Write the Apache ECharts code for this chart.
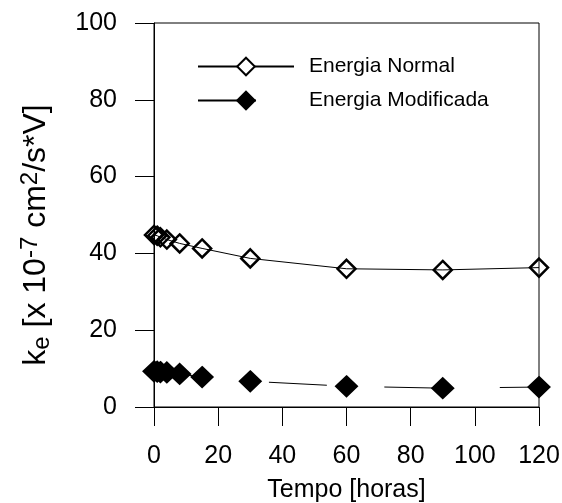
<!DOCTYPE html>
<html>
<head>
<meta charset="utf-8">
<script src="https://cdn.jsdelivr.net/npm/echarts@6/dist/echarts.min.js"></script>
<style>html,body{margin:0;padding:0;background:#fff}#c{width:562px;height:503px}</style>
</head>
<body>
<div id="c"></div>
<script>
var timeHours = [0, 1, 2, 4, 8, 15, 30, 60, 90, 120];
var normalValues = [44.8, 44.6, 44.2, 43.6, 42.6, 41.3, 38.7, 36.0, 35.7, 36.3];
var modifiedValues = [9.3, 9.2, 9.1, 9.0, 8.6, 7.8, 6.7, 5.4, 4.9, 5.2];
var xTicks = [0, 20, 40, 60, 80, 100, 120];
var yTicks = [0, 20, 40, 60, 80, 100];
var seriesNames = ['Energia Normal', 'Energia Modificada'];

function pairs(xs, ys) { return xs.map(function (x, i) { return [x, ys[i]]; }); }

var FONT = '"Liberation Sans", Arial, sans-serif';
var chart = echarts.init(document.getElementById('c'), null, { renderer: 'canvas' });
chart.setOption({
  animation: false,
  backgroundColor: '#fff',
  grid: { left: 154, top: 23, width: 385, height: 384, show: true, borderColor: '#000', borderWidth: 1, containLabel: false, outerBoundsMode: 'none' },
  legend: {
    left: 192, top: 51, orient: 'vertical', itemWidth: 96, itemHeight: 22, itemGap: 13,
    textStyle: { fontFamily: FONT, fontSize: 21, color: '#000', padding: [0, 0, 0, 10] },
    data: [
      { name: seriesNames[0], itemStyle: { color: '#fff' } },
      { name: seriesNames[1] }
    ]
  },
  xAxis: {
    type: 'value', min: xTicks[0], max: xTicks[xTicks.length - 1], interval: 20,
    name: 'Tempo [horas]', nameLocation: 'middle', nameGap: 71,
    nameTextStyle: { fontFamily: FONT, fontSize: 25, color: '#000' },
    axisLine: { lineStyle: { color: '#000', width: 1 } },
    axisTick: { show: true, inside: false, length: 19, lineStyle: { color: '#000' } },
    axisLabel: { fontFamily: FONT, fontSize: 25, color: '#000', margin: 37 },
    splitLine: { show: false }
  },
  yAxis: {
    type: 'value', min: yTicks[0], max: yTicks[yTicks.length - 1], interval: 20,
    name: '{n|k}{sub|e}{n| [x 10}{sup|-7}{n| cm}{sup|2}{n|/s*V]}',
    nameLocation: 'middle', nameRotate: 90, nameGap: 100,
    nameTextStyle: {
      fontFamily: FONT, fontSize: 32, color: '#000', padding: [0, 40, 0, 0],
      rich: {
        n: { fontFamily: FONT, fontSize: 32, color: '#000' },
        sub: { fontFamily: FONT, fontSize: 24, color: '#000', verticalAlign: 'bottom', padding: [12, 0, 0, 0] },
        sup: { fontFamily: FONT, fontSize: 24, color: '#000', verticalAlign: 'top', padding: [0, 0, 12, 0] }
      }
    },
    axisLine: { show: true, lineStyle: { color: '#000', width: 1 } },
    axisTick: { show: true, inside: false, length: 19, lineStyle: { color: '#000' } },
    axisLabel: { fontFamily: FONT, fontSize: 25, color: '#000', margin: 37 },
    splitLine: { show: false }
  },
  series: [
    {
      name: seriesNames[0], type: 'line', data: pairs(timeHours, normalValues),
      symbol: 'diamond', symbolSize: 18,
      itemStyle: { color: 'rgba(0,0,0,0)', borderColor: '#000', borderWidth: 2.5 },
      lineStyle: { color: '#000', width: 1 }, z: 3
    },
    {
      name: seriesNames[1], type: 'line', data: pairs(timeHours, modifiedValues),
      symbol: 'diamond', symbolSize: [21, 20],
      itemStyle: { color: '#000', borderColor: '#000', borderWidth: 2 },
      lineStyle: { color: '#000', width: 1, type: [58, 57.5], dashOffset: 0 }, z: 3
    }
  ]
});
</script>
</body>
</html>
